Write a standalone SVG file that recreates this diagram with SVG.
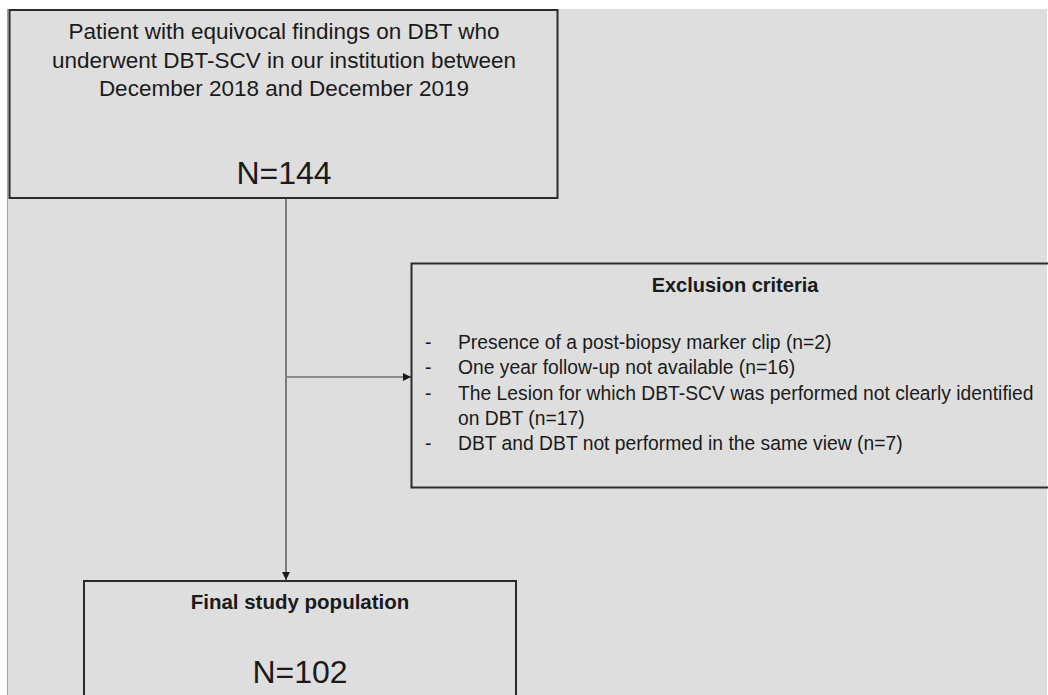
<svg xmlns="http://www.w3.org/2000/svg" width="1048" height="695" viewBox="0 0 1048 695">
<defs>
<style>
.box{fill:none;stroke:#2b2b2b;stroke-width:2}
.t{font-family:"Liberation Sans",Arial,sans-serif;fill:#1a1a1a}
.c{text-anchor:middle}
.b{font-weight:bold}
.conn{stroke:#3a3a3a;stroke-width:1.2;fill:none}
</style>
<marker id="ah" viewBox="0 0 10 10" refX="10" refY="5" markerWidth="8" markerHeight="8" markerUnits="userSpaceOnUse" orient="auto">
<path d="M0,0 L10,5 L0,10 Z" fill="#1a1a1a"/>
</marker>
</defs>
<rect x="0" y="0" width="1048" height="695" fill="#ffffff"/>
<rect x="8" y="9" width="1039" height="686" fill="#dedede"/>
<line x1="7.5" y1="9" x2="7.5" y2="695" stroke="#a0a0a0" stroke-width="1"/>
<g id="connectors">
<line class="conn" x1="286" y1="198" x2="286" y2="580" marker-end="url(#ah)"/>
<line class="conn" x1="287" y1="377" x2="411" y2="377" marker-end="url(#ah)"/>
</g>
<g id="n-start">
<rect class="box" x="9.5" y="10" width="548" height="188"/>
<text class="t c" x="284" y="39" font-size="22.5">Patient with equivocal findings on DBT who</text>
<text class="t c" x="284" y="68" font-size="22.5">underwent DBT-SCV in our institution between</text>
<text class="t c" x="284" y="96" font-size="22.5">December 2018 and December 2019</text>
<text class="t c" x="284" y="184" font-size="32">N=144</text>
</g>
<g id="n-exclusion">
<rect class="box" x="411.5" y="263.5" width="640" height="224" stroke-width="1.5"/>
<text class="t c b" x="735" y="292" font-size="20">Exclusion criteria</text>
<text class="t" font-size="19.3">
<tspan x="425" y="349">-</tspan><tspan x="458" y="349">Presence of a post-biopsy marker clip (n=2)</tspan>
<tspan x="425" y="374">-</tspan><tspan x="458" y="374">One year follow-up not available (n=16)</tspan>
<tspan x="425" y="400">-</tspan><tspan x="458" y="400">The Lesion for which DBT-SCV was performed not clearly identified</tspan>
<tspan x="458" y="425">on DBT (n=17)</tspan>
<tspan x="425" y="450">-</tspan><tspan x="458" y="450">DBT and DBT not performed in the same view (n=7)</tspan>
</text>
</g>
<g id="n-final">
<rect class="box" x="84" y="581" width="432" height="130"/>
<text class="t c b" x="300" y="609" font-size="20.5">Final study population</text>
<text class="t c" x="300" y="683" font-size="32">N=102</text>
</g>
</svg>
